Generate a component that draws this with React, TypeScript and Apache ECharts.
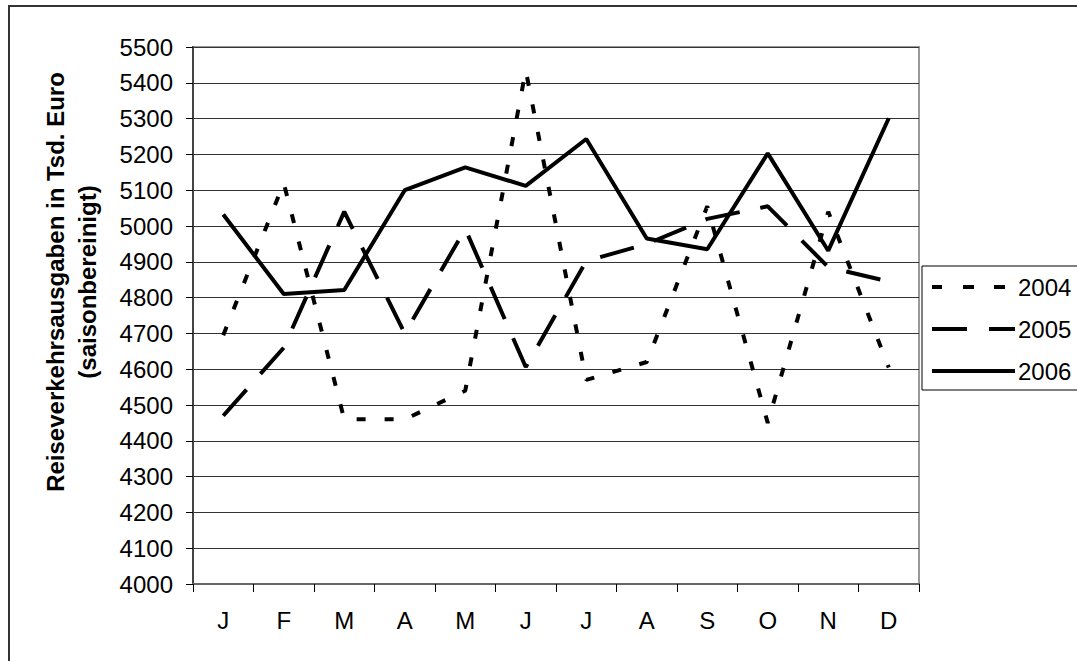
import React, { useEffect, useRef } from "react";
import * as echarts from "echarts";

const months = ["J", "F", "M", "A", "M", "J", "J", "A", "S", "O", "N", "D"];
const years = ["2004", "2005", "2006"];
const values2004 = [4695, 5120, 4460, 4460, 4540, 5435, 4570, 4620, 5055, 4450, 5040, 4605];
const values2005 = [4470, 4660, 5040, 4700, 4992, 4606, 4902, 4950, 5020, 5055, 4885, 4845];
const values2006 = [5032, 4810, 4821, 5100, 5164, 5112, 5243, 4965, 4935, 5203, 4931, 5301];
const yTitle = "Reiseverkehrsausgaben in Tsd. Euro\n(saisonbereinigt)";

const FONT = "'Liberation Sans', Arial, sans-serif";

// legend icons drawn as filled dash segments (83 x 4 box)
const legendIcons = [
  "path://M0,0h10v4h-10zM31,0h11v4h-11zM62,0h11v4h-11zM83,0h0.01v4h-0.01z",
  "path://M0,0h35v4h-35zM57,0h26v4h-26z",
  "path://M0,0h83v4h-83z",
];

export default function App() {
  const ref = useRef<HTMLDivElement>(null);
  useEffect(() => {
    if (!ref.current) return;
    const chart = echarts.init(ref.current, null, { renderer: "svg" });
    const dashes: any[] = [[9, 19], [35, 21], "solid"];
    const data = [values2004, values2005, values2006];
    chart.setOption({
      animation: false,
      backgroundColor: "#fff",
      textStyle: { fontFamily: FONT },
      grid: {
        left: 193,
        top: 47,
        right: 158,
        bottom: 77,
        show: true,
        borderColor: "#999",
        borderWidth: 2,
        backgroundColor: "transparent",
      },
      graphic: [
        {
          type: "rect",
          z: -10,
          shape: { x: 9, y: 6, width: 1200, height: 800 },
          style: { fill: "none", stroke: "#333", lineWidth: 2 },
          silent: true,
        },
        {
          type: "text",
          x: 71,
          y: 282,
          rotation: Math.PI / 2,
          style: {
            text: yTitle,
            fontFamily: FONT,
            fontSize: 24,
            fontWeight: "bold",
            lineHeight: 32,
            fill: "#000",
            align: "center",
            verticalAlign: "middle",
          },
        },
      ],
      legend: {
        orient: "vertical",
        left: 922,
        top: 266,
        padding: [7, 10, 5, 10],
        itemGap: 14,
        itemWidth: 83,
        itemHeight: 4,
        borderColor: "#000",
        borderWidth: 1,
        backgroundColor: "#fff",
        data: years.map((y, i) => ({ name: y, icon: legendIcons[i], itemStyle: { color: "#000" } })),
        textStyle: { fontFamily: FONT, fontSize: 24, color: "#000", lineHeight: 28, padding: [0, 0, 0, -2] },
      },
      xAxis: {
        type: "category",
        data: months,
        boundaryGap: true,
        axisLine: { lineStyle: { color: "#666", width: 2 } },
        axisTick: { show: true, length: 8, lineStyle: { color: "#000", width: 1 } },
        axisLabel: { fontFamily: FONT, fontSize: 24, color: "#000", margin: 24 },
        splitLine: { show: false },
      },
      yAxis: {
        type: "value",
        min: 4000,
        max: 5500,
        interval: 100,
        axisLine: { show: true, lineStyle: { color: "#444", width: 2 } },
        axisTick: { show: true, length: 7, lineStyle: { color: "#000", width: 1 } },
        axisLabel: {
          fontFamily: FONT,
          fontSize: 24,
          color: "#000",
          margin: 20,
          formatter: (v: number) => String(v),
        },
        splitLine: { show: true, lineStyle: { color: "#333", width: 1 } },
      },
      series: years.map((y, i) => ({
        name: y,
        type: "line",
        data: data[i],
        symbol: "none",
        showSymbol: false,
        lineStyle: { color: "#000", width: 4, type: dashes[i], cap: "butt" },
        itemStyle: { color: "#000" },
      })),
    });
    return () => chart.dispose();
  }, []);
  return (
    <div
      ref={ref}
      style={{ position: "fixed", left: 0, top: 0, width: 1077, height: 661 }}
    />
  );
}
